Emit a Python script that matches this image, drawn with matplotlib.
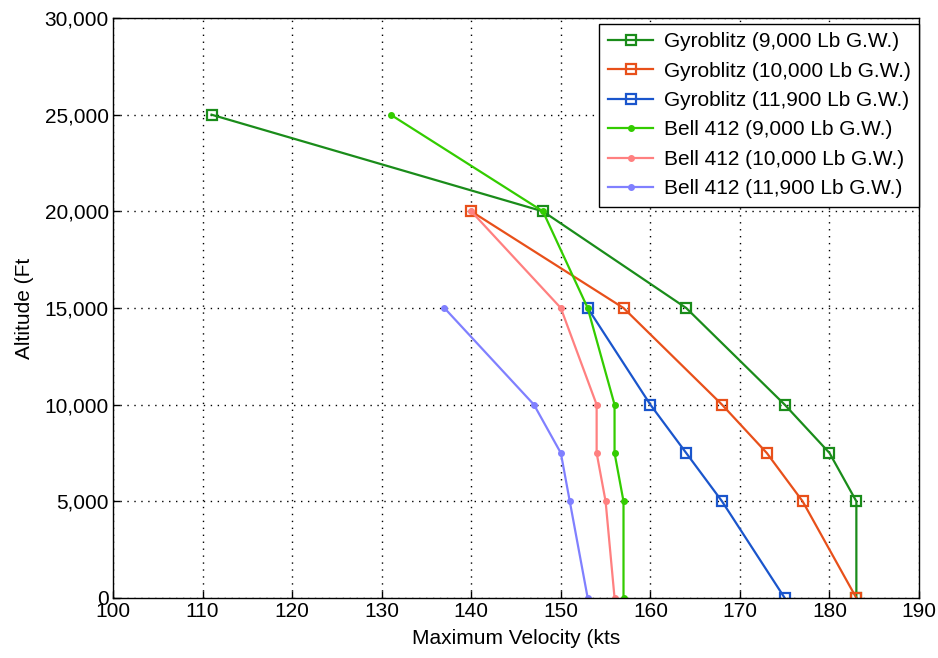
import numpy as np
import matplotlib.pyplot as plt
from matplotlib.ticker import FuncFormatter

plt.rcParams['font.family'] = ['Liberation Sans', 'DejaVu Sans']

# Gyroblitz curves (velocity in kts, altitude in ft)
gyro_9000_v = [111, 148, 164, 175, 180, 183, 183]
gyro_9000_h = [25000, 20000, 15000, 10000, 7500, 5000, 0]
gyro_10000_v = [140, 157, 168, 173, 177, 183]
gyro_10000_h = [20000, 15000, 10000, 7500, 5000, 0]
gyro_11900_v = [153, 160, 164, 168, 175]
gyro_11900_h = [15000, 10000, 7500, 5000, 0]

# Bell 412 curves
bell_9000_v = [131, 148, 153, 156, 156, 157, 157]
bell_9000_h = [25000, 20000, 15000, 10000, 7500, 5000, 0]
bell_10000_v = [140, 150, 154, 154, 155, 156]
bell_10000_h = [20000, 15000, 10000, 7500, 5000, 0]
bell_11900_v = [137, 147, 150, 151, 153]
bell_11900_h = [15000, 10000, 7500, 5000, 0]

fig = plt.figure(figsize=(9.38, 6.58), dpi=100)
ax = fig.add_axes([0.1205, 0.0912, 0.8593, 0.8814])

sq = dict(marker='s', markersize=7, mfc='none', mew=1.6, lw=1.6)
dot = dict(marker='o', markersize=4, lw=1.6)

ax.plot(gyro_9000_v, gyro_9000_h, color='#1a8c1a', label='Gyroblitz (9,000 Lb G.W.)', **sq)
ax.plot(gyro_10000_v, gyro_10000_h, color='#e8501a', label='Gyroblitz (10,000 Lb G.W.)', **sq)
ax.plot(gyro_11900_v, gyro_11900_h, color='#1a55cc', label='Gyroblitz (11,900 Lb G.W.)', **sq)
ax.plot(bell_9000_v, bell_9000_h, color='#33cc00', label='Bell 412 (9,000 Lb G.W.)', **dot)
ax.plot(bell_10000_v, bell_10000_h, color='#ff8080', label='Bell 412 (10,000 Lb G.W.)', **dot)
ax.plot(bell_11900_v, bell_11900_h, color='#8080ff', label='Bell 412 (11,900 Lb G.W.)', **dot)

ax.set_xlim(100, 190)
ax.set_ylim(0, 30000)
ax.set_xticks(np.arange(100, 191, 10))
ax.set_yticks(np.arange(0, 30001, 5000))
ax.yaxis.set_major_formatter(FuncFormatter(lambda v, p: f'{int(v):,}'))
ax.tick_params(direction='in', length=5, labelsize=15, width=1, pad=3)
ax.grid(True, linestyle=(0, (1, 4)), color='black', lw=1)
for s in ax.spines.values():
    s.set_linewidth(1)

ax.set_xlabel('Maximum Velocity (kts', fontsize=15, labelpad=6)
ax.set_ylabel('Altitude (Ft', fontsize=15, labelpad=8)

leg = ax.legend(loc='upper right', bbox_to_anchor=(1.0, 0.99), fontsize=15,
                fancybox=False, framealpha=1, edgecolor='black',
                borderaxespad=0.0, handlelength=2.2, handletextpad=0.5,
                labelspacing=0.5, borderpad=0.4)
leg.get_frame().set_linewidth(1)

plt.savefig('out.png', dpi=100)
